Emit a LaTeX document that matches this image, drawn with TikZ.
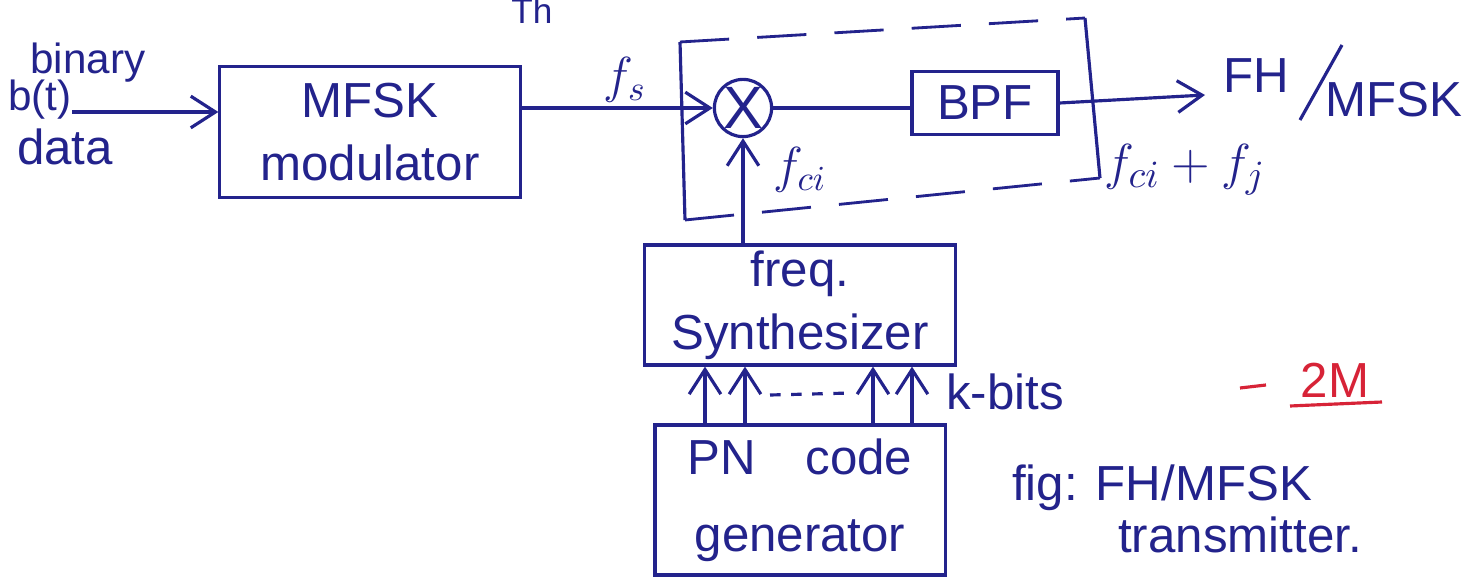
\documentclass[tikz,border=0pt]{standalone}
\usepackage{fontspec}
\setmainfont{Liberation Sans}
\usetikzlibrary{arrows.meta,calc}
\definecolor{pen}{RGB}{35,35,140}
\definecolor{redpen}{RGB}{215,35,55}
\begin{document}
\begin{tikzpicture}[x=0.01cm,y=-0.01cm,
  every node/.style={text=pen,font=\fontsize{14}{16}\selectfont},
  blk/.style={draw=pen,line width=0.9pt,align=center,inner sep=0pt},
  wire/.style={draw=pen,line width=0.9pt},
  arr/.style={wire,-{Straight Barb[length=7pt,width=9pt]}},
  lbl/.style={inner sep=1pt,align=left},
  small/.style={font=\fontsize{12}{13}\selectfont},
  dashbox/.style={draw=pen,line width=0.8pt,dash pattern=on 14pt off 8pt}]
\useasboundingbox (0,0) rectangle (1469,579);
\fill[white] (0,0) rectangle (1469,579);

% blocks
\node[blk,minimum width=3cm,minimum height=1.31cm] (mfsk) at (370,132) {MFSK\\[2pt]modulator};
\node[blk,circle,minimum size=0.56cm] (mix) at (743,108) {\fontsize{17}{17}\selectfont X};
\node[blk,minimum width=1.46cm,minimum height=0.63cm] (bpf) at (985,103) {BPF};
\node[blk,minimum width=3.1cm,minimum height=1.2cm] (synth) at (800,305) {freq.\\[2pt]Synthesizer};
\node[blk,minimum width=2.9cm,minimum height=1.5cm] (pn) at (800,500) {PN\quad code\\[6pt]generator};

% dashed enclosure
\draw[dashbox] (680,42) -- (1085,18);
\draw[dashbox] (685,220) -- (1100,178);
\draw[wire] (680,42) -- (685,220);
\draw[wire] (1085,18) -- (1100,178);

% input
\coordinate (in) at (72,112);
\node[lbl,small] (bin) at (88,63) {binary};
\node[lbl,small] (bt) at (40,100) {b(t)};
\node[lbl] (data) at (65,147) {data};
\draw[arr] (in) -- (mfsk.west |- in);

% main path
\draw[arr] (mix.west -| mfsk.east) -- (mix.west);
\node[lbl] (fs) at (625,80) {$f_s$};
\draw[wire] (mix.east) -- (bpf.west |- mix.east);
\coordinate (out) at (1205,95);
\draw[arr] (bpf.east) -- (out);
\node[lbl] (fh) at (1256,76) {FH};
\coordinate (sl1) at (1300,120);
\coordinate (sl2) at (1342,45);
\draw[wire] (sl1) -- (sl2);
\node[lbl] (mf) at (1394,100) {MFSK};
\node[lbl] (fcifj) at (1185,170) {\fontsize{15}{16}\selectfont$f_{ci}+f_j$};

% synthesizer to mixer
\draw[arr] (synth.north -| mix) -- (mix.south);
\node[lbl] (fci) at (800,170) {$f_{ci}$};

% PN to synthesizer
\foreach \dx [count=\i] in {-95,-55,73,112} {
  \draw[arr] ($(pn.north)+(\dx,0)$) coordinate (p\i) -- (synth.south -| p\i);
}
\coordinate (d1) at (770,395);
\coordinate (d2) at (852,393);
\draw[wire,dashed] (d1) -- (d2);
\node[lbl] (kb) at (1005,392) {k-bits};

% caption
\node[lbl] (fig) at (1162,488) {fig: FH/MFSK};
\node[lbl] (tx) at (1240,535) {transmitter.};

% red note
\node[lbl,text=redpen] (m2) at (1335,380) {2M};
\coordinate (r1) at (1240,388);
\coordinate (r2) at (1266,385);
\draw[draw=redpen,line width=0.9pt] (r1) -- (r2);
\coordinate (u1) at (1290,406);
\coordinate (u2) at (1382,402);
\draw[draw=redpen,line width=0.9pt] (u1) -- (u2);

% fragment at top
\node[lbl,font=\fontsize{10}{11}\selectfont] (th) at (532,11) {Th};
\end{tikzpicture}
\end{document}
